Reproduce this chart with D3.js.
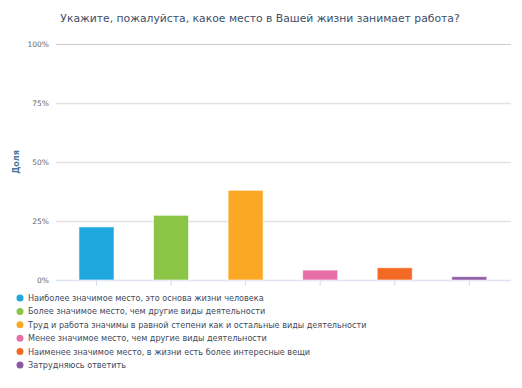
<!DOCTYPE html>
<html>
<head>
<meta charset="utf-8">
<script src="https://cdn.jsdelivr.net/npm/d3@7"></script>
<style>
  body { margin: 0; background: #fff; }
  svg { display: block; font-family: "DejaVu Sans", sans-serif; }
</style>
</head>
<body>
<svg id="chart" width="522" height="388"></svg>
<script>
const titleText = 'Укажите, пожалуйста, какое место в Вашей жизни занимает работа?';
const categories = [
    'Наиболее значимое место, это основа жизни человека',
    'Более значимое место, чем другие виды деятельности',
    'Труд и работа значимы в равной степени как и остальные виды деятельности',
    'Менее значимое место, чем другие виды деятельности',
    'Наименее значимое место, в жизни есть более интересные вещи',
    'Затрудняюсь ответить'
];
const values = [22.5, 27.4, 38.0, 4.2, 5.2, 1.4];
const colors = ['#1fa8e0', '#8bc546', '#fba824', '#e66fa9', '#f26a24', '#8b58a4'];
const yTicks = [0, 25, 50, 75, 100];

const svg = d3.select('#chart');
const marginLeft = 56, marginRight = 11, marginTop = 44, baseY = 280;
const width = 522;

svg.append('text')
    .attr('x', 260).attr('y', 22)
    .attr('text-anchor', 'middle')
    .attr('fill', '#3d4e68')
    .style('font-size', '10.8px')
    .text(titleText);

const x = d3.scaleBand()
    .domain(d3.range(categories.length))
    .range([59.2, 506.6])
    .paddingInner(0.53).paddingOuter(0.265);

const y = d3.scaleLinear().domain([0, 100]).range([baseY, marginTop]);

// grid
svg.append('g')
    .selectAll('line')
    .data(yTicks.filter(d => d > 0))
    .join('line')
    .attr('x1', marginLeft).attr('x2', width - marginRight)
    .attr('y1', d => y(d) + 0.5).attr('y2', d => y(d) + 0.5)
    .attr('stroke', d => d === 100 ? '#cccccc' : '#e3e3e3')
    .attr('stroke-width', d => d === 100 ? 1 : 1.5);

// y axis labels
const yAxis = d3.axisLeft(y).tickValues(yTicks).tickFormat(d => d + '%').tickSize(0).tickPadding(7);
const gy = svg.append('g')
    .attr('transform', `translate(${marginLeft},0)`)
    .call(yAxis);
gy.select('.domain').remove();
gy.selectAll('text').attr('fill', '#666').style('font-size', '7.5px').style('font-family', '"DejaVu Sans", sans-serif');

svg.append('text')
    .attr('transform', 'translate(19,162) rotate(-90)')
    .attr('text-anchor', 'middle')
    .attr('fill', '#4d759e')
    .style('font-size', '8px')
    .style('font-weight', 'bold')
    .text('Доля');

// x axis baseline + ticks
const xAxis = d3.axisBottom(x).tickFormat('').tickSize(5).tickSizeOuter(0);
const gx = svg.append('g')
    .attr('transform', `translate(0,${baseY + 0.5})`)
    .call(xAxis);
gx.select('.domain').attr('d', `M${marginLeft},0H${width - marginRight}`)
    .attr('stroke', '#dde4ef').attr('stroke-width', 1.5);
gx.selectAll('.tick line').attr('stroke', '#cfd9e8');

// bars
svg.append('g')
    .selectAll('rect')
    .data(values)
    .join('rect')
    .attr('x', (d, i) => x(i))
    .attr('width', x.bandwidth())
    .attr('y', d => y(d))
    .attr('height', d => baseY - y(d))
    .attr('fill', (d, i) => colors[i])
    .attr('stroke', 'rgba(255,255,255,0.6)')
    .attr('stroke-width', 1);

// legend
const legend = svg.append('g')
    .selectAll('g')
    .data(categories)
    .join('g')
    .attr('transform', (d, i) => `translate(20,${298 + i * 13.4})`);
legend.append('circle')
    .attr('r', 3.5)
    .attr('fill', (d, i) => colors[i]);
legend.append('text')
    .attr('x', 8).attr('y', 3)
    .attr('fill', '#3e4a5c')
    .style('font-size', '9px')
    .style('font-family', '"DejaVu Sans Condensed", "DejaVu Sans", sans-serif')
    .text(d => d);
</script>
</body>
</html>
